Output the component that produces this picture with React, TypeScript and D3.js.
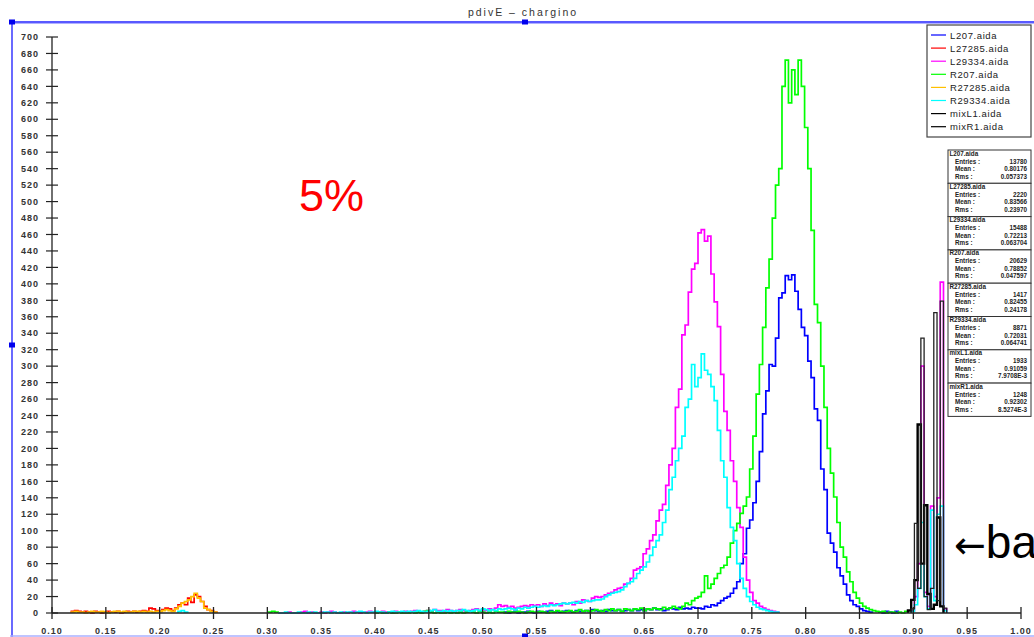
import React from 'react';
import * as d3 from 'd3';

// ---------- data ----------
const BIN0 = 0.1;
const BINW = 0.003;

const seriesNames = ['L207.aida', 'L27285.aida', 'L29334.aida', 'R207.aida', 'R27285.aida', 'R29334.aida', 'mixL1.aida', 'mixR1.aida'];
const seriesColors = ['#0000ff', '#ff0000', '#ff00ff', '#00ff00', '#ffc000', '#00ffff', '#000000', '#000000'];

// L207 (blue)
const L207_start = 140;
const L207_counts = [
  1, 0, 1, 2, 0, 1, 1, 2, 1, 0, 2, 1, 1, 2, 3, 1, 2, 1, 2, 3, 2, 1, 3, 2, 2, 3, 2, 4, 3, 2,
  3, 2, 4, 3, 3, 4, 2, 3, 4, 3, 5, 3, 4, 3, 5, 4, 6, 4, 5, 3, 4, 6, 5, 4, 7, 5, 6, 5, 7, 6,
  6, 5, 8, 7, 10, 9, 12, 15, 18, 20, 24, 30, 38, 60, 72, 103, 113, 134, 160, 196,
  242, 270, 302, 300, 334, 383, 389, 410, 405, 411, 391, 369, 347, 337, 306, 286, 248, 234, 175, 150,
  97, 85, 74, 55, 45, 35, 22, 15, 10, 8, 5, 3, 2, 1,
];
const L207_tail_start = 256;
const L207_tail = [1, 0, 2, 1, 0, 2];

// L27285 (red)
const L27285_start = 6;
const L27285_counts = [
  2, 3, 2, 1, 2, 1, 0, 2, 1, 0, 1, 2, 1, 1, 2, 0, 1, 2, 1, 2, 1, 2, 3, 2, 6, 5, 3, 2, 4, 6,
  5, 3, 6, 10, 12, 10, 18, 13, 22, 20, 14, 8, 4, 3, 1,
];

// L29334 (magenta)
const L29334_start = 70;
const L29334_counts = [
  0, 0, 0, 1, 0, 0, 0, 1, 2, 0, 1, 0, 0, 1, 0, 1, 2, 1, 0, 0,
  1, 0, 1, 2, 1, 0, 1, 1, 2, 1, 0, 1, 2, 1, 1, 0, 2, 1, 1, 2, 1, 2, 3, 2, 1, 2, 3, 2, 4, 3,
  3, 2, 4, 3, 2, 3, 4, 3, 2, 3, 4, 5, 3, 4, 3, 5, 4, 6, 10, 8, 9, 7, 8, 6, 7, 8, 9, 8, 10, 9,
  10, 8, 11, 9, 12, 10, 11, 9, 12, 11,
  12, 10, 14, 12, 16, 15, 14, 18, 20, 19,
  20, 22, 24, 25, 28, 30, 31, 35, 36, 42,
  52, 54, 56, 72, 78, 88, 95, 112, 125, 132,
  155, 180, 200, 250, 272, 338, 350, 390, 418, 425,
  462, 466, 452, 458, 412, 378, 348, 290, 245, 222,
  185, 160, 128, 104, 68, 40, 25, 15, 12, 8,
  6, 4, 3, 2, 1,
];
const L29334_spike_start = 266;
const L29334_spikes = [3, 20, 60, 300, 25, 8, 130, 20, 140, 402, 5];

// R207 (green)
const R207_start = 100;
const R207_counts = [
  0, 1, 0, 0, 1, 0, 0, 1, 0, 0, 0, 1, 0, 1, 0, 2, 3, 1, 0, 1, 0, 0, 1, 0, 1, 0, 1, 0, 1, 2,
  1, 0, 2, 1, 0, 1, 0, 2, 1, 1, 0, 2, 1, 1, 2, 1, 0, 1, 2, 1,
  1, 2, 1, 0, 2, 1, 3, 2, 1, 2, 3, 1, 2, 4, 2, 3, 2, 3, 4, 3, 2, 4, 3, 5, 3, 4, 2, 5, 4, 3,
  5, 4, 6, 3, 5, 4, 6, 5, 4, 7, 5, 6, 8, 6, 5,
  8, 12, 10, 15, 18, 20, 25, 45, 30, 35, 42, 48, 55, 58,
  68, 85, 100, 109, 121, 130, 141, 175, 215, 266, 302, 347, 395, 430, 480, 520, 540, 640, 672, 620,
  660, 630, 672, 640, 590, 540, 465, 375, 353, 300, 250, 200, 170, 141, 110, 80, 68, 50, 38, 25,
  18, 12, 8, 6, 4, 3, 2, 1, 2, 0, 1, 1, 0, 1, 0, 2,
];
const R207_bits_start = 67;
const R207_bits = [1, 2, 1];

// R27285 (orange)
const R27285_start = 6;
const R27285_counts = [
  1, 2, 1, 1, 0, 1, 2, 1, 1, 2, 1, 0, 1, 2, 2, 1, 2, 1, 1, 2, 2, 1, 2, 1, 2, 1, 2, 2, 3, 4,
  3, 2, 5, 8, 12, 14, 16, 20, 24, 18, 14, 6, 4, 2, 1,
];

// R29334 (cyan)
const R29334_start = 70;
const R29334_counts = [
  0, 0, 1, 0, 0, 0, 1, 0, 0, 1, 0, 1, 0, 0, 1, 1, 0, 1, 0, 1,
  0, 1, 1, 0, 1, 2, 1, 0, 1, 1, 2, 1, 1, 0, 1, 2, 1, 1, 2, 1, 2, 1, 2, 3, 2, 1, 2, 3, 4, 2,
  2, 3, 2, 3, 2, 3, 3, 4, 3, 2, 3, 4, 3, 5, 4, 3, 4, 3, 5, 4, 5, 6, 5, 4, 6, 5, 7, 6, 7, 8,
  7, 8, 9, 8, 10, 9, 10, 11, 12, 11,
  12, 13, 12, 14, 13, 15, 14, 15, 16, 16,
  17, 20, 22, 24, 25, 26, 28, 32, 36, 38,
  42, 48, 52, 56, 62, 70, 80, 88, 95, 110,
  125, 150, 165, 185, 200, 215, 250, 260, 302, 275,
  286, 315, 295, 290, 275, 258, 222, 185, 165, 128,
  104, 88, 60, 42, 30, 20, 14, 10, 7, 5,
  4, 3, 2, 1, 1,
];
const R29334_bits_start = 39;
const R29334_bits = [2, 3, 1];
const R29334_spike_start = 266;
const R29334_spikes = [2, 10, 30, 110, 20, 5, 125, 15, 120, 130, 3];

// mixL1 / mixR1 (black)
const mixL1_start = 265;
const mixL1_counts = [3, 16, 40, 229, 60, 131, 23, 5, 10, 116, 8];
const mixR1_start = 266;
const mixR1_counts = [5, 109, 30, 334, 20, 4, 30, 365, 15, 379, 6];

// statistics boxes
const statEntries = ['13780', '2220', '15488', '20629', '1417', '8871', '1933', '1248'];
const statMeans = ['0.80176', '0.83566', '0.72213', '0.78852', '0.82455', '0.72031', '0.91059', '0.92302'];
const statRms = ['0.057373', '0.23970', '0.063704', '0.047597', '0.24178', '0.064741', '7.9708E-3', '8.5274E-3'];

// axes
const yTicks = d3.range(0, 701, 20);
const xTicks = d3.range(0, 19).map((k) => +(0.1 + 0.05 * k).toFixed(2));

const titleText = 'pdivE \u2013 chargino';

// ---------- layout ----------
const W = 1034;
const H = 637;
const xScale = d3.scaleLinear().domain([0.1, 1.0]).range([52, 1021]);
const yScale = d3.scaleLinear().domain([0, 700]).range([613, 37]);
const FONT = '"Liberation Sans", Arial, Helvetica, sans-serif';

function stepPath(start: number, vals: number[]): string {
  const e = (i: number) => xScale(BIN0 + BINW * i);
  const pts: [number, number][] = [];
  pts.push([e(start), yScale(0)]);
  vals.forEach((v, k) => {
    pts.push([e(start + k), yScale(v)]);
    pts.push([e(start + k + 1), yScale(v)]);
  });
  pts.push([e(start + vals.length), yScale(0)]);
  return d3.line()(pts) || '';
}

type Seg = { color: string; width: number; start: number; vals: number[] };

const segments: Seg[] = [
  { color: seriesColors[0], width: 1.7, start: L207_start, vals: L207_counts },
  { color: seriesColors[0], width: 1.7, start: L207_tail_start, vals: L207_tail },
  { color: seriesColors[1], width: 1.7, start: L27285_start, vals: L27285_counts },
  { color: seriesColors[2], width: 1.7, start: L29334_start, vals: L29334_counts },
  { color: seriesColors[2], width: 1.7, start: L29334_spike_start, vals: L29334_spikes },
  { color: seriesColors[3], width: 1.7, start: R207_bits_start, vals: R207_bits },
  { color: seriesColors[3], width: 1.7, start: R207_start, vals: R207_counts },
  { color: seriesColors[4], width: 1.7, start: R27285_start, vals: R27285_counts },
  { color: seriesColors[5], width: 1.7, start: R29334_bits_start, vals: R29334_bits },
  { color: seriesColors[5], width: 1.7, start: R29334_start, vals: R29334_counts },
  { color: seriesColors[5], width: 1.7, start: R29334_spike_start, vals: R29334_spikes },
  { color: '#000000', width: 2.4, start: mixL1_start, vals: mixL1_counts },
  { color: '#222222', width: 1.3, start: mixR1_start, vals: mixR1_counts },
];

export default function App() {
  const axisColor = '#222';
  const legendY0 = 35;
  const legendDY = 13.1;
  const statY0 = 150;
  const statH = 33.3;

  return (
    <svg
      width={W}
      height={H}
      style={{ position: 'absolute', left: 0, top: 0, background: '#fff' }}
      fontFamily={FONT}
    >
      <rect x={0} y={0} width={W} height={H} fill="#fff" />

      {/* title */}
      <text x={523} y={16} textAnchor="middle" fontSize={10.5} letterSpacing={2} fill="#333">
        {titleText}
      </text>

      {/* selection frame */}
      <line x1={10} x2={W} y1={22} y2={22} stroke="#2222ff" strokeWidth={1.5} />
      <line x1={10} x2={W} y1={23.5} y2={23.5} stroke="#b0b0ff" strokeWidth={1} />
      <line x1={12} x2={12} y1={22} y2={H} stroke="#4444ff" strokeWidth={1.6} />
      <line x1={10} x2={W} y1={636} y2={636} stroke="#aab0ff" strokeWidth={1.5} />
      {[[12, 22], [12, 345], [525, 22], [525, 636]].map(([cx, cy], i) => (
        <rect key={i} x={cx - 3} y={cy - 2.5} width={6} height={5} fill="#0000ee" />
      ))}

      {/* histograms */}
      {segments.map((s, i) => (
        <path key={i} d={stepPath(s.start, s.vals)} fill="none" stroke={s.color} strokeWidth={s.width} />
      ))}

      {/* y axis */}
      <line x1={52} x2={52} y1={yScale(700)} y2={yScale(0)} stroke={axisColor} strokeWidth={1.3} />
      {yTicks.map((t) => (
        <g key={t}>
          <line x1={46} x2={58} y1={yScale(t)} y2={yScale(t)} stroke={axisColor} strokeWidth={1.2} />
          <text
            x={39}
            y={yScale(t) + 3.2}
            textAnchor="end"
            fontSize={9}
            fontWeight="bold"
            letterSpacing={1}
            fill="#333"
          >
            {t}
          </text>
        </g>
      ))}

      {/* x axis */}
      <line x1={xScale(0.1)} x2={xScale(1.0)} y1={yScale(0)} y2={yScale(0)} stroke={axisColor} strokeWidth={1.3} />
      {xTicks.map((t) => (
        <g key={t}>
          <line x1={xScale(t)} x2={xScale(t)} y1={607} y2={619} stroke={axisColor} strokeWidth={1.3} />
          <text
            x={xScale(t)}
            y={634}
            textAnchor="middle"
            fontSize={9}
            fontWeight="bold"
            letterSpacing={1}
            fill="#333"
          >
            {t.toFixed(2)}
          </text>
        </g>
      ))}

      {/* legend */}
      <rect x={927} y={25} width={104} height={112} fill="#fff" stroke="#444" strokeWidth={1.2} />
      {seriesNames.map((n, i) => (
        <g key={n}>
          <line
            x1={931}
            x2={946}
            y1={legendY0 + i * legendDY}
            y2={legendY0 + i * legendDY}
            stroke={seriesColors[i]}
            strokeWidth={1.2}
          />
          <text x={950} y={legendY0 + i * legendDY + 3.5} fontSize={9.5} letterSpacing={0.6} fill="#222">
            {n}
          </text>
        </g>
      ))}

      {/* statistics boxes */}
      {seriesNames.map((n, i) => {
        const y0 = statY0 + i * statH;
        return (
          <g key={'s' + n} fontSize={6.3} fontWeight="bold" fill="#222">
            <rect x={948} y={y0} width={83} height={statH} fill="#fff" stroke="#333" strokeWidth={1} />
            <text x={949.5} y={y0 + 5.5}>{n}</text>
            <text x={955} y={y0 + 13.5}>Entries :</text>
            <text x={1027} y={y0 + 13.5} textAnchor="end">{statEntries[i]}</text>
            <text x={955} y={y0 + 21}>Mean :</text>
            <text x={1027} y={y0 + 21} textAnchor="end">{statMeans[i]}</text>
            <text x={955} y={y0 + 28.5}>Rms :</text>
            <text x={1027} y={y0 + 28.5} textAnchor="end">{statRms[i]}</text>
          </g>
        );
      })}

      {/* annotations */}
      <text x={299} y={211} fontSize={45} fill="#ff0000">5%</text>
      <text x={954} y={558} fontSize={46} fill="#000">
        <tspan fontFamily='"DejaVu Sans", sans-serif' fontSize={38}>{'\u2190'}</tspan>
        <tspan>ba</tspan>
      </text>
    </svg>
  );
}
